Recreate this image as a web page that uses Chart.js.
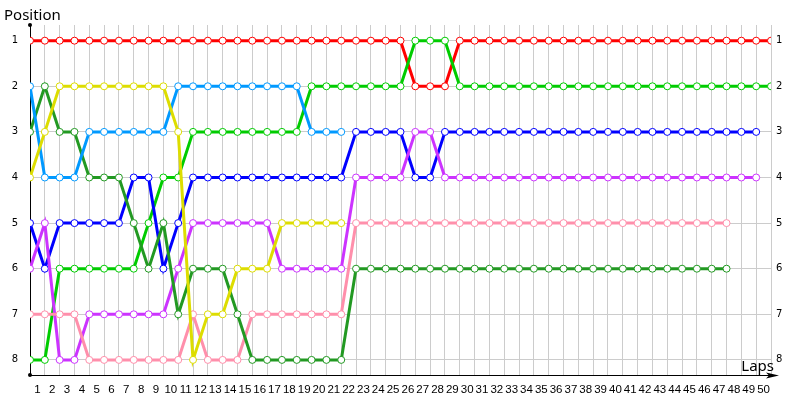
<!DOCTYPE html>
<html>
<head>
<meta charset="utf-8">
<script src="https://cdn.jsdelivr.net/npm/chart.js@4"></script>
<style>
    html, body { margin: 0; padding: 0; background: #fff; }
    #wrap { width: 800px; height: 400px; }
</style>
</head>
<body>
<div id="wrap"><canvas id="lapChart"></canvas></div>
<script>
// lap 0 = starting grid, then laps 1..50
const laps = Array.from({ length: 51 }, (_, i) => i);
const positionTicks = [1, 2, 3, 4, 5, 6, 7, 8];

// positions per lap (index = lap)
const redCar = [1,1,1,1,1,1,1,1,1,1,1,1,1,1,1,1,1,1,1,1,1,1,1,1,1,1,2,2,2,1,1,1,1,1,1,1,1,1,1,1,1,1,1,1,1,1,1,1,1,1,1];
const greenCar = [8,8,6,6,6,6,6,6,5,4,4,3,3,3,3,3,3,3,3,2,2,2,2,2,2,2,1,1,1,2,2,2,2,2,2,2,2,2,2,2,2,2,2,2,2,2,2,2,2,2,2];
const blueCar = [5,6,5,5,5,5,5,4,4,6,5,4,4,4,4,4,4,4,4,4,4,4,3,3,3,3,4,4,3,3,3,3,3,3,3,3,3,3,3,3,3,3,3,3,3,3,3,3,3,3];
const purpleCar = [6,5,8,8,7,7,7,7,7,7,6,5,5,5,5,5,5,6,6,6,6,6,4,4,4,4,3,3,4,4,4,4,4,4,4,4,4,4,4,4,4,4,4,4,4,4,4,4,4,4];
const pinkCar = [7,7,7,7,8,8,8,8,8,8,8,7,8,8,8,7,7,7,7,7,7,7,5,5,5,5,5,5,5,5,5,5,5,5,5,5,5,5,5,5,5,5,5,5,5,5,5,5];
const darkGreenCar = [3,2,3,3,4,4,4,5,6,5,7,6,6,6,7,8,8,8,8,8,8,8,6,6,6,6,6,6,6,6,6,6,6,6,6,6,6,6,6,6,6,6,6,6,6,6,6,6];
const lightBlueCar = [2,4,4,4,3,3,3,3,3,3,2,2,2,2,2,2,2,2,2,3,3,3];
const yellowCar = [4,3,2,2,2,2,2,2,2,2,3,8,7,7,6,6,6,5,5,5,5,5];

function makeSeries(name, values, color) {
    return {
        label: name,
        data: values.map((p, i) => ({ x: laps[i], y: p })),
        borderColor: color,
        borderWidth: 3,
        pointRadius: 3.5,
        pointBorderWidth: 1,
        pointBackgroundColor: '#ffffff',
        pointBorderColor: color,
        tension: 0
    };
}

// axis decorations and the two axis captions
const axisDecor = {
    id: 'axisDecor',
    afterDraw(chart) {
        const ctx = chart.ctx;
        const area = chart.chartArea;
        ctx.save();
        ctx.fillStyle = '#000';
        ctx.strokeStyle = '#000';
        ctx.lineWidth = 1;

        // x axis runs on past the plot into an arrow
        ctx.beginPath();
        ctx.moveTo(area.right, area.bottom + 0.5);
        ctx.lineTo(area.right + 6, area.bottom + 0.5);
        ctx.stroke();
        ctx.beginPath();
        ctx.moveTo(area.right + 8, area.bottom + 0.5);
        ctx.lineTo(area.right - 5, area.bottom - 2.5);
        ctx.lineTo(area.right - 2, area.bottom + 0.5);
        ctx.lineTo(area.right - 5, area.bottom + 3.5);
        ctx.closePath();
        ctx.fill();

        ctx.beginPath();
        ctx.arc(area.left, area.top, 2, 0, Math.PI * 2);
        ctx.fill();
        ctx.beginPath();
        ctx.arc(area.left, area.bottom, 2, 0, Math.PI * 2);
        ctx.fill();

        ctx.font = '15px "Noto Sans"';
        ctx.textBaseline = 'alphabetic';
        ctx.textAlign = 'left';
        ctx.fillText('Position', 4, 20);
        ctx.textAlign = 'right';
        ctx.fillText('Laps', area.right + 3, area.bottom - 4);
        ctx.restore();
    }
};

const yMin = 0.656;
const yMax = 8.331;

const ctx = document.getElementById('lapChart').getContext('2d');
// listed last-to-first so the later cars are drawn on top
window.lapChart = new Chart(ctx, {
    type: 'line',
    data: {
        datasets: [
            makeSeries('Yellow', yellowCar, '#dddd00'),
            makeSeries('Light blue', lightBlueCar, '#0099ff'),
            makeSeries('Dark green', darkGreenCar, '#229922'),
            makeSeries('Pink', pinkCar, '#ff8fab'),
            makeSeries('Purple', purpleCar, '#cc33ff'),
            makeSeries('Blue', blueCar, '#0000ff'),
            makeSeries('Green', greenCar, '#00cc00'),
            makeSeries('Red', redCar, '#ff0000')
        ]
    },
    options: {
        responsive: true,
        maintainAspectRatio: false,
        animation: false,
        layout: { padding: { top: 25, left: 0, right: 0, bottom: 0 } },
        plugins: {
            legend: { display: false },
            tooltip: { enabled: false }
        },
        scales: {
            x: {
                type: 'linear',
                min: 0,
                max: 50,
                grid: { color: '#cccccc', drawTicks: false },
                border: { color: '#000000', width: 1 },
                ticks: {
                    stepSize: 1,
                    autoSkip: false,
                    maxRotation: 0,
                    padding: 8,
                    labelOffset: 7.4,
                    color: '#000',
                    font: { family: 'Liberation Sans', size: 11.5 },
                    callback: (v) => (v < 50 ? String(v + 1) : '')
                },
                afterFit: (scale) => { scale.height = 25; }
            },
            y: {
                type: 'linear',
                position: 'left',
                reverse: true,
                min: yMin,
                max: yMax,
                grid: { color: '#cccccc', drawTicks: false },
                border: { color: '#000000', width: 1 },
                afterBuildTicks: (scale) => {
                    scale.ticks = positionTicks.map(v => ({ value: v }));
                },
                ticks: {
                    padding: 12,
                    color: '#000',
                    font: { family: 'DejaVu Sans', size: 10 }
                },
                afterFit: (scale) => { scale.width = 30; }
            },
            y2: {
                type: 'linear',
                position: 'right',
                reverse: true,
                min: yMin,
                max: yMax,
                grid: { display: false, drawTicks: false },
                border: { display: false },
                afterBuildTicks: (scale) => {
                    scale.ticks = positionTicks.map(v => ({ value: v }));
                },
                ticks: {
                    padding: 5,
                    color: '#000',
                    font: { family: 'DejaVu Sans', size: 10 }
                },
                afterFit: (scale) => { scale.width = 29; }
            }
        }
    },
    plugins: [axisDecor]
});
</script>
</body>
</html>
